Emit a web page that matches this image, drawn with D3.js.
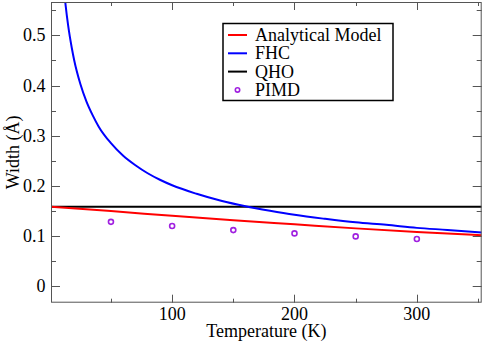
<!DOCTYPE html>
<html lang="en">
<head>
  <meta charset="UTF-8">
  <title>Width vs Temperature</title>
  <script src="https://d3js.org/d3.v7.min.js"></script>
  <style>
    body { margin: 0; background: #fff; }
    svg { display: block; }
    svg text { font-family: "Liberation Serif", "Times New Roman", Times, "DejaVu Serif", serif; }
  </style>
</head>
<body>
  <div id="chart"></div>
  <script>
    // values
    const analyticalT = [1, 50, 100, 150, 200, 250, 300, 353];
    const analyticalW = [0.158, 0.1495, 0.140, 0.131, 0.123, 0.115, 0.108, 0.1015];

    const fhcT = [11, 13, 15, 18, 20, 25, 30, 35, 40, 50, 60, 70, 80, 90, 100, 120, 140, 160, 180, 200, 225, 250, 275, 300, 325, 353];
    const fhcW = [0.608, 0.559, 0.520, 0.475, 0.450, 0.403, 0.368, 0.341, 0.318, 0.285, 0.260, 0.241, 0.225, 0.212, 0.201, 0.184, 0.170, 0.159, 0.150, 0.142, 0.134, 0.127, 0.122, 0.116, 0.112, 0.107];

    const qhoT = [1, 353];
    const qhoW = [0.158, 0.158];

    const pimdT = [50, 100, 150, 200, 250, 300];
    const pimdW = [0.128, 0.1196, 0.1116, 0.105, 0.099, 0.0937];

    const xTicks = [100, 200, 300];
    const yTicks = [0, 0.1, 0.2, 0.3, 0.4, 0.5];
    const legendLabels = ["Analytical Model", "FHC", "QHO", "PIMD"];

    const W = 484, H = 342;
    const pLeft = 51, pRight = 481.7, pTop = 2, pBottom = 302.7;
    const serif = "'Liberation Serif', 'Times New Roman', Times, 'DejaVu Serif', serif";

    const svg = d3.select("#chart").append("svg")
      .attr("width", W)
      .attr("height", H)
      .attr("font-family", serif);

    const x = d3.scaleLinear().domain([1, 353]).range([pLeft, pRight]);
    const y = d3.scaleLinear().domain([-0.0333, 0.5667]).range([pBottom, pTop]);

    const frame = "#555";

    svg.append("clipPath").attr("id", "plot")
      .append("rect")
      .attr("x", pLeft).attr("y", pTop)
      .attr("width", pRight - pLeft).attr("height", pBottom - pTop);

    // ticks on all four sides, pointing inward
    const xMinor = d3.range(50, 351, 50);
    const yMinor = d3.range(0, 0.56, 0.05).map(v => +v.toFixed(2));
    const isMajorX = v => v % 100 === 0;
    const isMajorY = v => Math.abs(v * 10 - Math.round(v * 10)) < 1e-6;

    const ticks = svg.append("g").attr("stroke", frame).attr("stroke-width", 1);
    xMinor.forEach(v => {
      const len = isMajorX(v) ? 8 : 4;
      const px = Math.round(x(v)) + 0.5;
      ticks.append("line").attr("x1", px).attr("x2", px).attr("y1", pBottom).attr("y2", pBottom - len);
      ticks.append("line").attr("x1", px).attr("x2", px).attr("y1", pTop).attr("y2", pTop + len);
    });
    yMinor.forEach(v => {
      const len = isMajorY(v) ? 9 : 5;
      const py = Math.round(y(v)) + 0.5;
      ticks.append("line").attr("x1", pLeft).attr("x2", pLeft + len).attr("y1", py).attr("y2", py);
      ticks.append("line").attr("x1", pRight).attr("x2", pRight - len).attr("y1", py).attr("y2", py);
    });

    const line = d3.line().x(d => x(d[0])).y(d => y(d[1])).curve(d3.curveMonotoneX);
    const plot = svg.append("g").attr("clip-path", "url(#plot)");

    plot.append("path")
      .datum(qhoT.map((t, i) => [t, qhoW[i]]))
      .attr("d", line).attr("fill", "none").attr("stroke", "#000").attr("stroke-width", 2);

    plot.append("path")
      .datum(fhcT.map((t, i) => [t, fhcW[i]]))
      .attr("d", line).attr("fill", "none").attr("stroke", "#0000ff").attr("stroke-width", 2);

    plot.append("path")
      .datum(analyticalT.map((t, i) => [t, analyticalW[i]]))
      .attr("d", line).attr("fill", "none").attr("stroke", "#ff0000").attr("stroke-width", 2);

    plot.selectAll("circle.pimd")
      .data(pimdT.map((t, i) => [t, pimdW[i]]))
      .enter().append("circle")
      .attr("class", "pimd")
      .attr("cx", d => x(d[0])).attr("cy", d => y(d[1]))
      .attr("r", 2.5)
      .attr("fill", "none").attr("stroke", "#a020e0").attr("stroke-width", 1.6);

    // frame
    svg.append("rect")
      .attr("x", pLeft + 0.5).attr("y", pTop + 0.5)
      .attr("width", pRight - pLeft - 1).attr("height", pBottom - pTop - 1)
      .attr("fill", "none").attr("stroke", frame).attr("stroke-width", 1);

    // tick labels
    svg.selectAll("text.xt").data(xTicks).enter().append("text")
      .attr("class", "xt")
      .attr("x", d => x(d)).attr("y", 320)
      .attr("text-anchor", "middle").attr("font-size", 18)
      .text(d => d);

    svg.selectAll("text.yt").data(yTicks).enter().append("text")
      .attr("class", "yt")
      .attr("x", 45.5).attr("y", d => y(d) + 6)
      .attr("text-anchor", "end").attr("font-size", 18)
      .text(d => d === 0 ? "0" : d3.format(".1f")(d));

    // axis titles
    svg.append("text")
      .attr("x", (pLeft + pRight) / 2).attr("y", 337)
      .attr("text-anchor", "middle").attr("font-size", 18)
      .text("Temperature (K)");

    svg.append("text")
      .attr("transform", `translate(19, ${(pTop + pBottom) / 2}) rotate(-90)`)
      .attr("text-anchor", "middle").attr("font-size", 18)
      .text("Width (Å)");

    // legend
    const lg = svg.append("g");
    lg.append("rect")
      .attr("x", 223).attr("y", 23.5).attr("width", 170).attr("height", 77)
      .attr("fill", "#fff").attr("stroke", "#000").attr("stroke-width", 1.5);

    const legendColors = ["#ff0000", "#0000ff", "#000", "#a020e0"];
    legendLabels.forEach((lab, i) => {
      const ly = 35 + i * 18.3;
      if (i < 3) {
        lg.append("line")
          .attr("x1", 228).attr("x2", 247).attr("y1", ly).attr("y2", ly)
          .attr("stroke", legendColors[i]).attr("stroke-width", 2);
      } else {
        lg.append("circle")
          .attr("cx", 237.5).attr("cy", ly).attr("r", 2.2)
          .attr("fill", "none").attr("stroke", legendColors[i]).attr("stroke-width", 1.6);
      }
      lg.append("text")
        .attr("x", 255).attr("y", ly + 6)
        .attr("font-size", 18)
        .text(lab);
    });
  </script>
</body>
</html>
